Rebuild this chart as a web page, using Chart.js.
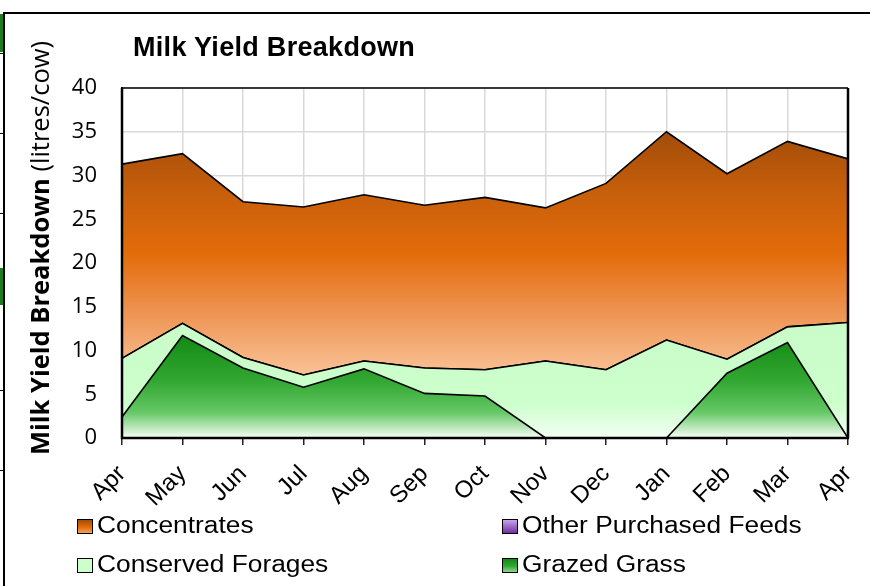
<!DOCTYPE html>
<html>
<head>
<meta charset="utf-8">
<script src="https://cdn.jsdelivr.net/npm/chart.js@4.4.1/dist/chart.umd.min.js"></script>
<style>
  html, body { margin: 0; padding: 0; background: #fff; }
  #wrap { position: relative; width: 870px; height: 586px; overflow: hidden; background: #fff; }
  #chart { position: absolute; left: 0; top: 0; }
  .deco { position: absolute; background: #000; }
  .green { position: absolute; background: #1a7f1a; }
  #title { position: absolute; left: 133px; top: 34px; font: bold 27px "Liberation Sans", Arial, sans-serif; line-height: 27px; letter-spacing: 0.3px; color: #000; white-space: nowrap; }
  #ytitle { position: absolute; left: -213px; top: 233px; width: 500px; height: 30px; line-height: 30px; text-align: center;
            font: 25.5px "Open Sans", sans-serif; color: #000; transform: rotate(-90deg); white-space: nowrap; }
  #ytitle b { font-weight: bold; }
  .leg { position: absolute; font: 23px "Liberation Sans", Arial, sans-serif; line-height: 23px; color: #000; white-space: nowrap;
         transform: scaleX(1.145); transform-origin: 0 0; }
  .sw { position: absolute; width: 14px; height: 13px; border: 1px solid #000; }
</style>
</head>
<body>
<div id="wrap">
  <div class="deco" style="left:3px; top:12px; width:867px; height:2px;"></div>
  <div class="deco" style="left:3px; top:12px; width:2px; height:574px;"></div>
  <div class="green" style="left:0; top:14px; width:3px; height:38px;"></div>
  <div class="green" style="left:0; top:268px; width:3px; height:37px;"></div>
  <div class="deco" style="left:0; top:53px; width:3px; height:1px;"></div>
  <div class="deco" style="left:0; top:133px; width:3px; height:1px;"></div>
  <div class="deco" style="left:0; top:213px; width:3px; height:1px;"></div>
  <div class="deco" style="left:0; top:390px; width:3px; height:1px;"></div>
  <div class="deco" style="left:0; top:470px; width:3px; height:1px;"></div>
  <canvas id="chart" width="870" height="586"></canvas>
  <div id="title">Milk Yield Breakdown</div>
  <div id="ytitle"><b>Milk Yield Breakdown</b> (litres/cow)</div>
  <div id="legend"></div>
</div>
<script>
// ---- data ----
const months = ['Apr','May','Jun','Jul','Aug','Sep','Oct','Nov','Dec','Jan','Feb','Mar','Apr'];
const grazedGrass      = [2.4, 11.7, 8.0, 5.8, 7.9, 5.1, 4.8, 0, 0, 0, 7.4, 10.9, 0];
const conservedForages = [6.7, 1.4, 1.2, 1.4, 0.9, 2.9, 3.0, 8.8, 7.8, 11.2, 1.6, 1.8, 13.2];
const otherPurchased   = [0, 0, 0, 0, 0, 0, 0, 0, 0, 0, 0, 0, 0];
const concentrates     = [22.2, 19.4, 17.8, 19.2, 19.0, 18.6, 19.7, 17.5, 21.3, 23.8, 21.2, 21.2, 18.7];
const yTicks = [0, 5, 10, 15, 20, 25, 30, 35, 40];
const legendOrder = ['Concentrates', 'Other Purchased Feeds', 'Conserved Forages', 'Grazed Grass'];

// ---- gradient helpers ----
function grad(ctx, area, yTopVal, yBotVal, stops) {
  const chart = ctx.chart;
  const ys = chart.scales.y;
  if (!area || !ys) return stops[0][1];
  const g = chart.ctx.createLinearGradient(0, ys.getPixelForValue(yTopVal), 0, ys.getPixelForValue(yBotVal));
  stops.forEach(s => g.addColorStop(s[0], s[1]));
  return g;
}
const sums = months.map((m, i) => grazedGrass[i] + conservedForages[i] + otherPurchased[i] + concentrates[i]);
const lower = months.map((m, i) => grazedGrass[i] + conservedForages[i] + otherPurchased[i]);
const fg = months.map((m, i) => grazedGrass[i] + conservedForages[i]);

const styles = {
  'Grazed Grass': c => grad(c, c.chart.chartArea, Math.max(...grazedGrass), 0,
      [[0, '#128a12'], [0.45, '#33a833'], [0.75, '#66c866'], [0.92, '#c8ecc8'], [1, '#f6fff6']]),
  'Conserved Forages': c => grad(c, c.chart.chartArea, Math.max(...fg), 0,
      [[0, '#c9fcc9'], [0.7, '#ccffcc'], [1, '#f4fff4']]),
  'Other Purchased Feeds': c => grad(c, c.chart.chartArea, 15, 0,
      [[0, '#7030a0'], [1, '#c7a3ea']]),
  'Concentrates': c => grad(c, c.chart.chartArea, Math.max(...sums), Math.min(...lower),
      [[0, '#a24c0a'], [0.25, '#c75f0b'], [0.5, '#e36c0a'], [0.75, '#ee9554'], [1, '#fac296']])
};

const series = [
  { label: 'Grazed Grass', data: grazedGrass, fill: 'origin' },
  { label: 'Conserved Forages', data: conservedForages, fill: '-1' },
  { label: 'Other Purchased Feeds', data: otherPurchased, fill: '-1' },
  { label: 'Concentrates', data: concentrates, fill: '-1' }
];

const framePlugin = {
  id: 'frame',
  afterDatasetsDraw(chart) {
    const { ctx, chartArea: a } = chart;
    ctx.save();
    ctx.strokeStyle = '#000';
    ctx.lineWidth = 1.5;
    ctx.beginPath();
    ctx.moveTo(a.left, a.top); ctx.lineTo(a.right, a.top);
    ctx.stroke();
    ctx.lineWidth = 2.5;
    ctx.beginPath();
    ctx.moveTo(a.right, a.top); ctx.lineTo(a.right, a.bottom);
    ctx.moveTo(a.left, a.top); ctx.lineTo(a.left, a.bottom); ctx.lineTo(a.right + 1, a.bottom);
    ctx.stroke();
    ctx.restore();
  }
};

const chart = new Chart(document.getElementById('chart'), {
  type: 'line',
  data: {
    labels: months,
    datasets: series.map(s => ({
      label: s.label,
      data: s.data,
      fill: s.fill,
      backgroundColor: styles[s.label],
      borderColor: '#000',
      borderWidth: 1.6,
      pointRadius: 0,
      tension: 0
    }))
  },
  options: {
    responsive: false,
    animation: false,
    devicePixelRatio: 1,
    layout: { padding: { top: 88, right: 22, left: 0, bottom: 0 } },
    plugins: { legend: { display: false }, title: { display: false }, tooltip: { enabled: false } },
    scales: {
      x: {
        offset: false,
        grid: { color: '#d9d9d9', lineWidth: 1.5, drawTicks: true, tickLength: 7, tickColor: '#222' },
        border: { display: true, color: '#000', width: 2 },
        ticks: {
          autoSkip: false, maxRotation: 45, minRotation: 45, padding: 15, color: '#000',
          font: { family: '"Liberation Sans", Arial, sans-serif', size: 24 }
        },
        afterFit(scale) { scale.height = 586 - 438; scale.paddingLeft = 0; scale.paddingRight = 0; }
      },
      y: {
        stacked: true,
        min: 0, max: 40,
        afterBuildTicks(scale) { scale.ticks = yTicks.map(v => ({ value: v })); },
        grid: { color: '#d9d9d9', lineWidth: 1.5, drawTicks: false },
        border: { display: true, color: '#000', width: 2 },
        ticks: {
          padding: 25, color: '#000',
          font: { family: '"Open Sans", sans-serif', size: 22 }
        },
        afterFit(scale) { scale.width = 122; scale.paddingTop = 0; scale.paddingBottom = 0; }
      }
    }
  },
  plugins: [framePlugin]
});

// ---- HTML legend built from the dataset labels ----
const swatchFill = {
  'Concentrates': 'linear-gradient(#a24c0a, #e36c0a 55%, #f2a060)',
  'Other Purchased Feeds': 'linear-gradient(#c7a3ea, #7030a0)',
  'Conserved Forages': '#ccffcc',
  'Grazed Grass': 'linear-gradient(#128a12, #33a833 55%, #8fd88f)'
};
const legendPos = [
  { sx: 77, sy: 519, tx: 97, ty: 514 },
  { sx: 502, sy: 519, tx: 522, ty: 514 },
  { sx: 77, sy: 558, tx: 97, ty: 553 },
  { sx: 502, sy: 558, tx: 522, ty: 553 }
];
const legend = document.getElementById('legend');
legendOrder.forEach((name, i) => {
  const p = legendPos[i];
  const sw = document.createElement('div');
  sw.className = 'sw';
  sw.style.left = p.sx + 'px'; sw.style.top = p.sy + 'px';
  sw.style.background = swatchFill[name];
  const t = document.createElement('div');
  t.className = 'leg';
  t.style.left = p.tx + 'px'; t.style.top = p.ty + 'px';
  t.textContent = name;
  legend.appendChild(sw); legend.appendChild(t);
});
</script>
</body>
</html>
